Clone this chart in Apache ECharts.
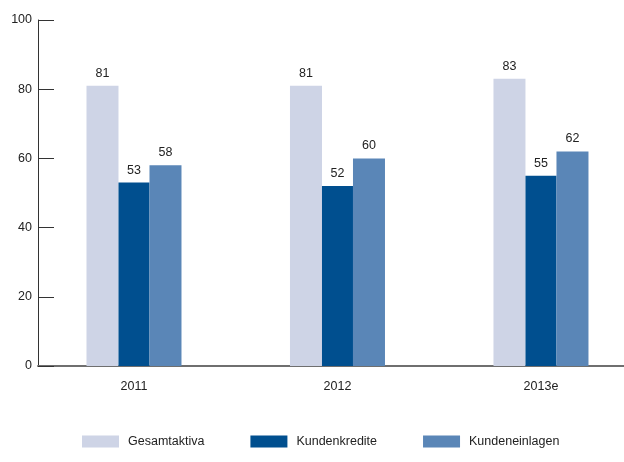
<!DOCTYPE html>
<html>
<head>
<meta charset="utf-8">
<script src="https://cdn.jsdelivr.net/npm/echarts@6/dist/echarts.min.js"></script>
<style>html,body{margin:0;padding:0;background:#fff}#c{width:624px;height:462px}</style>
</head>
<body>
<div id="c"></div>
<script>
const categories = ['2011', '2012', '2013e'];
const gesamtaktiva = [81, 81, 83];
const kundenkredite = [53, 52, 55];
const kundeneinlagen = [58, 60, 62];
const yTicks = [0, 20, 40, 60, 80, 100];

const font = 'Liberation Sans, Arial, sans-serif';
const fs = 12.5;
const chart = echarts.init(document.getElementById('c'), null, {renderer: 'canvas'});
const lbl = {show: true, position: 'top', distance: 6, color: '#222', fontSize: fs, fontFamily: font};
const pairs = arr => arr.map((v, i) => [i, v]);
const idx = categories.map((c, i) => i);
chart.setOption({
  animation: false,
  grid: {left: 38, right: 0, top: 20, bottom: 96},
  legend: {
    left: 77, top: 430, itemWidth: 37, itemHeight: 12, itemGap: 46,
    icon: 'rect',
    textStyle: {fontSize: fs, fontFamily: font, color: '#222', padding: [0, 0, 0, 4]},
    data: ['Gesamtaktiva', 'Kundenkredite', 'Kundeneinlagen']
  },
  xAxis: {
    type: 'value', min: -0.4717, max: 2.408,
    axisLine: {onZero: false, lineStyle: {color: '#6f6f6f', width: 2}},
    axisTick: {show: false},
    splitLine: {show: false},
    axisLabel: {
      color: '#222', fontSize: fs, fontFamily: font, margin: 14,
      customValues: idx,
      formatter: v => categories[Math.round(v)] || ''
    }
  },
  yAxis: {
    type: 'value', min: yTicks[0], max: yTicks[yTicks.length - 1], interval: 20,
    axisLine: {show: true, onZero: false, lineStyle: {color: '#333', width: 1}},
    axisTick: {show: true, inside: true, length: 16, lineStyle: {color: '#333'}},
    axisLabel: {color: '#222', fontSize: fs, fontFamily: font, margin: 6},
    splitLine: {show: false}
  },
  series: [
    {name: 'Gesamtaktiva', type: 'bar', data: pairs(gesamtaktiva), barWidth: 32, barGap: '0%', itemStyle: {color: '#ced4e6'}, label: lbl},
    {name: 'Kundenkredite', type: 'bar', data: pairs(kundenkredite), barWidth: 31, barGap: '0%', itemStyle: {color: '#004f8f'}, label: lbl},
    {name: 'Kundeneinlagen', type: 'bar', data: pairs(kundeneinlagen), barWidth: 32, barGap: '0%', itemStyle: {color: '#5a86b7'}, label: lbl}
  ]
});
</script>
</body>
</html>
